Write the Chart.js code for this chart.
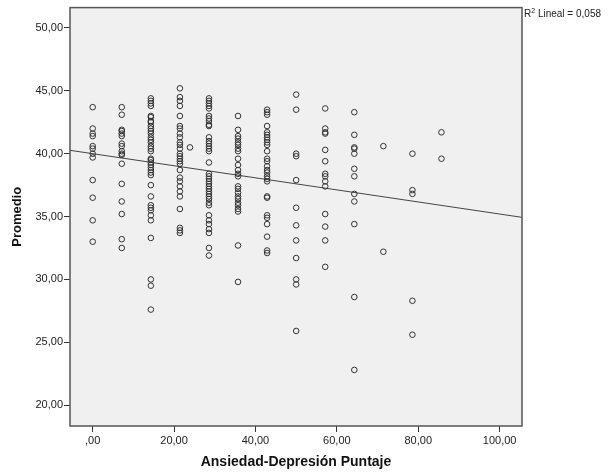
<!DOCTYPE html>
<html>
<head>
<meta charset="utf-8">
<script src="https://cdn.jsdelivr.net/npm/chart.js@4.4.1/dist/chart.umd.min.js"></script>
<style>
  html, body { margin: 0; padding: 0; background: #fff; }
  #wrap { width: 613px; height: 472px; position: relative; }
</style>
</head>
<body>
<div id="wrap"><canvas id="scatterChart"></canvas></div>
<script>
// Ansiedad-Depresión score levels (x) and the Promedio values read at each level (y)
const scoreLevels = [0, 7.14, 14.29, 21.43, 28.57, 35.71, 42.86, 50, 57.14, 64.29, 71.43, 78.57, 85.71];

const prom00 = [43.7, 42.0, 41.6, 41.4, 40.6, 40.4, 40.0, 39.7, 37.9, 36.5, 34.7, 33.0];
const prom07 = [43.7, 43.1, 41.9, 41.8, 41.6, 41.4, 40.8, 40.6, 40.2, 40.0, 39.9, 39.2, 37.6, 36.2, 35.2, 33.2, 32.5];
const prom14 = [44.4, 44.2, 44.0, 43.8, 43.0, 42.9, 42.6, 42.5, 42.2, 42.0, 41.8, 41.6, 41.3, 41.1, 40.9, 40.6, 40.4, 40.2,
                39.6, 39.5, 39.3, 39.1, 38.9, 38.7, 38.5, 38.3, 37.5, 36.6, 35.9, 35.7, 35.5, 35.1, 34.7, 33.3, 30.0, 29.5, 27.6];
const prom21 = [45.2, 44.5, 44.2, 43.8, 43.0, 42.2, 42.0, 41.6, 41.3, 40.9, 40.7, 40.4, 40.0, 39.8, 39.6, 39.4, 39.2, 38.7,
                38.1, 37.8, 37.4, 37.0, 36.6, 35.6, 34.1, 33.9, 33.7];
const prom29 = [44.4, 44.2, 44.0, 43.8, 43.6, 43.0, 42.8, 42.6, 42.3, 42.2, 41.3, 41.0, 40.8, 40.6, 40.4, 40.2, 39.3, 38.4,
                38.2, 38.0, 37.8, 37.6, 37.4, 37.2, 37.0, 36.8, 36.6, 36.4, 36.1, 35.9, 35.1, 34.7, 34.4, 34.0, 33.7, 32.5, 31.9];
const prom36 = [43.0, 41.9, 41.4, 41.2, 40.9, 40.7, 40.4, 40.2, 39.6, 39.1, 38.7, 38.4, 38.2, 37.4, 37.2, 36.9, 36.6, 36.4,
                36.1, 35.9, 35.6, 35.4, 32.7, 29.8];
const prom43 = [43.5, 43.3, 43.1, 42.2, 41.7, 41.5, 41.3, 41.1, 40.9, 40.7, 40.2, 39.6, 39.4, 39.0, 38.7, 38.5, 38.2, 38.0,
                37.8, 36.6, 36.5, 35.1, 34.9, 34.4, 33.4, 32.3, 32.1];
const prom50 = [44.7, 43.5, 40.0, 39.8, 37.9, 35.7, 34.3, 33.1, 31.7, 30.0, 29.6, 25.9];
const prom57 = [43.6, 42.0, 41.7, 41.6, 40.3, 39.4, 38.4, 38.2, 37.8, 37.4, 35.2, 34.2, 33.1, 31.0];
const prom64 = [43.3, 41.5, 40.5, 40.4, 40.0, 38.8, 38.2, 36.8, 36.2, 34.4, 28.6, 22.8];
const prom71 = [40.6, 32.2];
const prom79 = [40.0, 37.1, 36.8, 28.3, 25.6];
const prom86 = [41.7, 39.6];
const promByLevel = [prom00, prom07, prom14, prom21, prom29, prom36, prom43, prom50, prom57, prom64, prom71, prom79, prom86];

// one case off the regular score grid
const extraX = [23.9];
const extraY = [40.5];

// linear fit as printed by SPSS
const fitIntercept = 40.0;
const fitSlope = -0.048;
const r2Text = '0,058';

const xTicks = [0, 20, 40, 60, 80, 100];
const xTickLabels = [',00', '20,00', '40,00', '60,00', '80,00', '100,00'];
const yTicks = [20, 25, 30, 35, 40, 45, 50];
const yTickLabels = ['20,00', '25,00', '30,00', '35,00', '40,00', '45,00', '50,00'];

const X_MIN = -5.58, X_MAX = 105.5;
const Y_MIN = 18.34, Y_MAX = 51.62;

document.addEventListener("DOMContentLoaded", function () {

    const points = [];
    scoreLevels.forEach(function (x, i) {
        promByLevel[i].forEach(function (y) { points.push({ x: x, y: y }); });
    });
    extraX.forEach(function (x, i) { points.push({ x: x, y: extraY[i] }); });

    const fitLine = [X_MIN, X_MAX].map(function (x) {
        return { x: x, y: fitIntercept + fitSlope * x };
    });

    const plotFrame = {
        id: 'plotFrame',
        beforeDatasetsDraw(chart) {
            const a = chart.chartArea, c = chart.ctx;
            c.save();
            c.fillStyle = '#f0f0f0';
            c.fillRect(a.left, a.top, a.right - a.left, a.bottom - a.top);
            c.restore();
        },
        afterDraw(chart) {
            const a = chart.chartArea, c = chart.ctx;
            c.save();
            c.strokeStyle = '#555';
            c.lineWidth = 1.5;
            c.strokeRect(a.left, a.top, a.right - a.left, a.bottom - a.top);
            // R² label
            c.fillStyle = '#222';
            c.textBaseline = 'alphabetic';
            let x = a.right + 2;
            c.font = '10px "Liberation Sans", Arial, sans-serif';
            c.fillText('R', x, 17);
            x += c.measureText('R').width;
            c.font = '7px "Liberation Sans", Arial, sans-serif';
            c.fillText('2', x, 13);
            x += c.measureText('2').width;
            c.font = '10px "Liberation Sans", Arial, sans-serif';
            c.fillText(' Lineal = ' + r2Text, x, 17);
            c.restore();
        }
    };

    const ctx = document.getElementById('scatterChart').getContext('2d');

    new Chart(ctx, {
        type: 'scatter',
        data: {
            datasets: [{
                label: 'Promedio',
                data: points,
                pointRadius: 2.8,
                pointHoverRadius: 2.8,
                pointBorderWidth: 1,
                pointBorderColor: '#333',
                pointBackgroundColor: 'rgba(0,0,0,0)'
            }, {
                type: 'line',
                label: 'Lineal',
                data: fitLine,
                borderColor: '#444',
                borderWidth: 1,
                pointRadius: 0,
                fill: false
            }]
        },
        options: {
            responsive: true,
            maintainAspectRatio: false,
            animation: false,
            layout: { padding: { top: 4.5, right: 91, left: 0, bottom: 0 } },
            scales: {
                x: {
                    type: 'linear',
                    min: X_MIN,
                    max: X_MAX,
                    afterBuildTicks(scale) { scale.ticks = xTicks.map(function (v) { return { value: v }; }); },
                    afterFit(scale) { scale.height = 46; },
                    grid: { drawOnChartArea: false, drawTicks: true, tickLength: 6, tickColor: '#333' },
                    border: { display: false },
                    ticks: {
                        padding: 2,
                        color: '#222',
                        font: { family: '"Liberation Sans", Arial, sans-serif', size: 11 },
                        maxRotation: 0,
                        callback: function (v, i) { return xTickLabels[i]; }
                    },
                    title: {
                        display: true,
                        text: 'Ansiedad-Depresión Puntaje',
                        color: '#111',
                        font: { family: '"Liberation Sans", Arial, sans-serif', size: 14, weight: 'bold' },
                        padding: { top: 0, bottom: 1 }
                    }
                },
                y: {
                    type: 'linear',
                    min: Y_MIN,
                    max: Y_MAX,
                    afterBuildTicks(scale) { scale.ticks = yTicks.map(function (v) { return { value: v }; }); },
                    afterFit(scale) { scale.width = 70; },
                    grid: { drawOnChartArea: false, drawTicks: true, tickLength: 6, tickColor: '#333' },
                    border: { display: false },
                    ticks: {
                        padding: 1,
                        color: '#222',
                        font: { family: '"Liberation Sans", Arial, sans-serif', size: 11 },
                        callback: function (v, i) { return yTickLabels[i]; }
                    },
                    title: {
                        display: true,
                        text: 'Promedio',
                        color: '#111',
                        font: { family: '"Liberation Sans", Arial, sans-serif', size: 13, weight: 'bold' },
                        padding: { top: 10, bottom: 0 }
                    }
                }
            },
            plugins: {
                legend: { display: false },
                tooltip: { enabled: false }
            }
        },
        plugins: [plotFrame]
    });

});
</script>
</body>
</html>
